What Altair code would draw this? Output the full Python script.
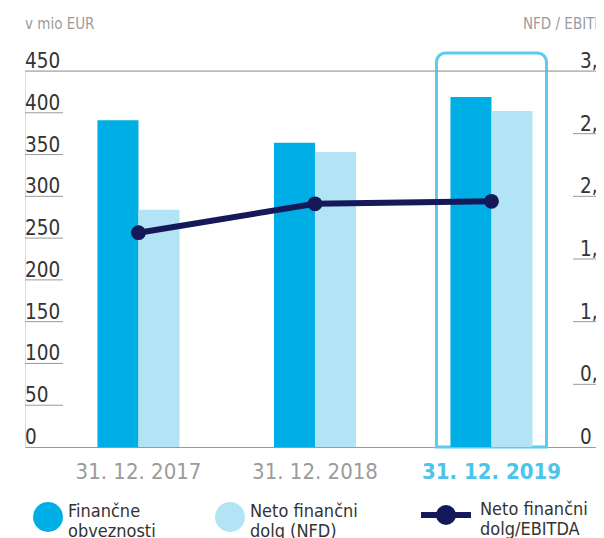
import altair as alt
import pandas as pd

# ---- data ----
dates = ["31. 12. 2017", "31. 12. 2018", "31. 12. 2019"]
series = ["Finančne\nobveznosti", "Neto finančni\ndolg (NFD)"]
fin_obveznosti = [391, 364, 419]
neto_fin_dolg = [284, 353, 402]
ratio_name = ["Neto finančni\ndolg/EBITDA"]
nfd_ebitda = [1.71, 1.94, 1.96]
highlight = ["31. 12. 2019"]
left_ticks = [0, 50, 100, 150, 200, 250, 300, 350, 400, 450]
right_ticks = [0, 0.5, 1.0, 1.5, 2.0, 2.5, 3.0]
right_labels = ["0", "0,5", "1,0", "1,5", "2,0", "2,5", "3,0"]
left_title = ["v mio EUR"]
right_title = ["NFD / EBITDA"]

# ---- style ----
FONT = "DejaVu Sans Condensed"
DARK = "#00AEE6"
LIGHT = "#B3E4F6"
NAVY = "#15195A"
BOX = "#5CCBF0"
GRID = "#9A9A9A"
TXT = "#333333"
W, H = 571, 376

bars_df = pd.DataFrame({
    "date": dates * 2,
    "series": [series[0]] * 3 + [series[1]] * 3,
    "value": fin_obveznosti + neto_fin_dolg,
})
ratio_df = pd.DataFrame({"date": dates, "ratio": nfd_ebitda, "metric": ratio_name * 3})
box_df = pd.DataFrame({"date": highlight})
lt_df = pd.DataFrame({"v": left_ticks, "label": [str(t) for t in left_ticks]})
lu_df = pd.DataFrame({"v": left_ticks[1:-1]})
top_df = pd.DataFrame({"v": left_ticks[-1:]})
rt_df = pd.DataFrame({"r": right_ticks, "label": right_labels})
ru_df = pd.DataFrame({"r": right_ticks[1:-1]})

yl = alt.Scale(domain=[0, 450])
yr = alt.Scale(domain=[0, 3])

xaxis = alt.Axis(
    title=None, ticks=False, tickSize=0, grid=False, domain=True,
    domainColor=GRID, domainWidth=1, labelAngle=0,
    labelFont=FONT, labelFontSize=22, labelPadding=31,
    labelBaseline="alphabetic",
    labelColor={"condition": {"test": "datum.value == '31. 12. 2019'", "value": "#4DC4EC"}, "value": "#9B9B9B"},
    labelFontWeight={"condition": {"test": "datum.value == '31. 12. 2019'", "value": "bold"}, "value": "normal"},
)
xscale = alt.Scale(domain=dates, paddingInner=0.535, paddingOuter=0.385, align=0.533)
X = alt.X("date:N", scale=xscale, axis=xaxis, sort=dates)

box = alt.Chart(box_df).mark_bar(
    width=110, fill="transparent", stroke=BOX, strokeWidth=3,
    cornerRadiusTopLeft=9, cornerRadiusTopRight=9,
).encode(
    x=X,
    y=alt.YDatum(471.5, scale=yl, axis=None),
    y2=alt.Y2Datum(0),
)

bars = alt.Chart(bars_df).mark_bar().encode(
    x=X,
    xOffset=alt.XOffset("series:N", sort=series, scale=alt.Scale(domain=series, paddingInner=0, paddingOuter=0)),
    y=alt.Y("value:Q", scale=yl, axis=None),
    fill=alt.Fill(
        "series:N", sort=series,
        scale=alt.Scale(domain=series, range=[DARK, LIGHT]),
        legend=alt.Legend(
            title=None, orient="none", legendX=8, legendY=431, direction="horizontal",
            symbolType="circle", symbolSize=900, symbolStrokeWidth=0,
            labelFont=FONT, labelFontSize=18, labelColor=TXT, labelOffset=5,
            labelBaseline="alphabetic",
            labelExpr="split(datum.label, '\\n')", labelLimit=300,
            columnPadding=59,
        ),
    ),
)

sym = ("M-1,0H1"
       "M-0.28,0A0.28,0.28 0 1,0 0.28,0A0.28,0.28 0 1,0 -0.28,0"
       "M-0.12,0A0.12,0.12 0 1,0 0.12,0A0.12,0.12 0 1,0 -0.12,0")

line = alt.Chart(ratio_df).mark_line(strokeWidth=6).encode(
    x=X,
    y=alt.Y("ratio:Q", scale=yr, axis=None),
    stroke=alt.Stroke(
        "metric:N",
        scale=alt.Scale(domain=ratio_name, range=[NAVY]),
        legend=alt.Legend(
            title=None, orient="none", legendX=393, legendY=416,
            symbolType=sym, symbolSize=2500, symbolStrokeWidth=6,
            symbolFillColor=NAVY, symbolStrokeColor=NAVY,
            labelFont=FONT, labelFontSize=18, labelColor=TXT, labelOffset=6,
            labelBaseline="alphabetic",
            labelExpr="split(datum.label, '\\n')", labelLimit=300,
        ),
    ),
)

points = alt.Chart(ratio_df).mark_circle(size=220, color=NAVY, opacity=1).encode(
    x=X,
    y=alt.Y("ratio:Q", scale=yr, axis=None),
)

left_labels = alt.Chart(lt_df).mark_text(
    align="left", baseline="alphabetic", dy=-3, font=FONT, fontSize=20.5, color=TXT
).encode(x=alt.value(0), y=alt.Y("v:Q", scale=yl, axis=None), text="label:N")

left_under = alt.Chart(lu_df).mark_rule(color=GRID, strokeWidth=1).encode(
    x=alt.value(0), x2=alt.value(38), y=alt.Y("v:Q", scale=yl, axis=None)
)

top_line = alt.Chart(top_df).mark_rule(color=GRID, strokeWidth=1).encode(
    x=alt.value(0), x2=alt.value(W), y=alt.Y("v:Q", scale=yl, axis=None)
)

right_lab = alt.Chart(rt_df).mark_text(
    align="left", baseline="alphabetic", dy=-3, font=FONT, fontSize=20.5, color=TXT
).encode(x=alt.value(555), y=alt.Y("r:Q", scale=yr, axis=None), text="label:N")

right_under = alt.Chart(ru_df).mark_rule(color=GRID, strokeWidth=1).encode(
    x=alt.value(548), x2=alt.value(W), y=alt.Y("r:Q", scale=yr, axis=None)
)

lt = alt.Chart(pd.DataFrame({"t": left_title})).mark_text(
    align="left", baseline="alphabetic", font=FONT, fontSize=15, color="#9B9B9B"
).encode(x=alt.value(0), y=alt.value(-42), text="t:N")

rtt = alt.Chart(pd.DataFrame({"t": right_title})).mark_text(
    align="left", baseline="alphabetic", font=FONT, fontSize=15, color="#9B9B9B"
).encode(x=alt.value(498), y=alt.value(-42), text="t:N")

chart = alt.layer(
    box, bars, top_line, left_under, right_under, left_labels, right_lab,
    line, points, lt, rtt,
).resolve_scale(y="independent").properties(
    width=W, height=H,
    autosize=alt.AutoSizeParams(type="none"),
    padding={"left": 17, "top": 63, "right": 0, "bottom": 91},
).configure_view(strokeWidth=0).configure(background="white")

chart.save("out.html", embed_options={"renderer": "svg", "actions": False})
